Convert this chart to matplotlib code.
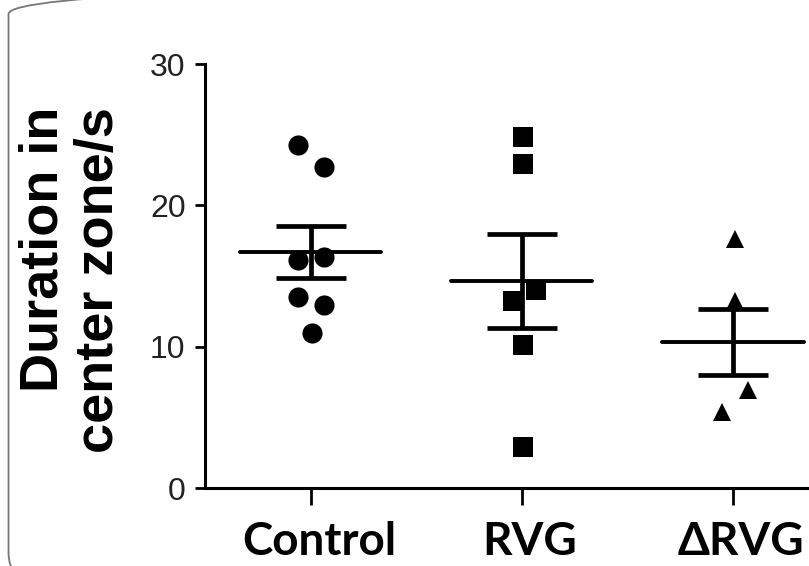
import numpy as np
import matplotlib
matplotlib.use("Agg")
import matplotlib.pyplot as plt
from matplotlib.patches import FancyBboxPatch
from matplotlib.transforms import IdentityTransform, ScaledTranslation

# values
groups = ["Control", "RVG", "\u0394RVG"]
control = [24.3, 22.7, 16.1, 16.35, 13.5, 12.95, 10.97]
rvg = [24.8, 22.9, 14.0, 13.2, 10.1, 2.9]
drvg = [17.65, 13.2, 6.95, 5.35]
means = [16.7, 14.65, 10.33]
sems = [1.85, 3.3, 2.37]

# horizontal scatter of the dots around each group centre
control_dx = [-0.06, 0.065, -0.06, 0.065, -0.06, 0.065, 0.005]
rvg_dx = [0.005, 0.005, 0.066, -0.04, 0.005, 0.005]
drvg_dx = [0.01, 0.01, 0.07, -0.05]

W, H = 809, 566
fig = plt.figure(figsize=(W / 100, H / 100), dpi=100)
ax = fig.add_axes([205 / W, 78 / H, (838.5 - 205) / W, 424 / H])

# rounded panel border (left part visible only)
frame = FancyBboxPatch((8.5, -16), 900, 598, boxstyle="round,pad=0,rounding_size=30",
                       transform=IdentityTransform(), fill=False, ec="#777777", lw=1.3)
fig.patches.append(frame)

sets = [(control, control_dx, "o", 14.5), (rvg, rvg_dx, "s", 14.5), (drvg, drvg_dx, "^", 12.5)]
for i, (vals, dx, mk, ms) in enumerate(sets):
    ax.plot(i + np.array(dx), vals, ls="none", marker=mk, ms=ms, color="black", mew=0, zorder=3)

for i, (m, s) in enumerate(zip(means, sems)):
    ax.hlines(m, i - 0.335, i + 0.335, color="black", lw=2.8, zorder=4, capstyle="round")
    ax.errorbar(i, m, yerr=s, fmt="none", ecolor="black", elinewidth=3.4,
                capsize=25, capthick=3.4, zorder=4)

ax.set_xlim(-0.5, 2.5)
ax.set_ylim(0, 30)
ax.set_yticks([0, 10, 20, 30])
ax.set_xticks(range(3))
ax.set_xticklabels(groups)
for side in ["top", "right"]:
    ax.spines[side].set_visible(False)
for side in ["left", "bottom"]:
    ax.spines[side].set_linewidth(2.2)
ax.tick_params(axis="y", length=7, width=2, pad=7, labelsize=23, labelcolor="#222222")
ax.tick_params(axis="x", length=12, width=2, pad=12)
for lab in ax.get_yticklabels():
    lab.set_family("Liberation Sans")
for lab in ax.get_xticklabels():
    lab.set_family("Lato")
    lab.set_fontweight("bold")
    lab.set_fontsize(33)
    lab.set_transform(lab.get_transform() + ScaledTranslation(6 / 72, 0, fig.dpi_scale_trans))

fig.text(71 / W, 1 - 280 / H, "Duration in\ncenter zone/s", rotation=90, ha="center", va="center",
         multialignment="right", family="Liberation Sans", fontweight="bold", fontsize=39,
         linespacing=1.15)

fig.savefig("out.png", dpi=100)
